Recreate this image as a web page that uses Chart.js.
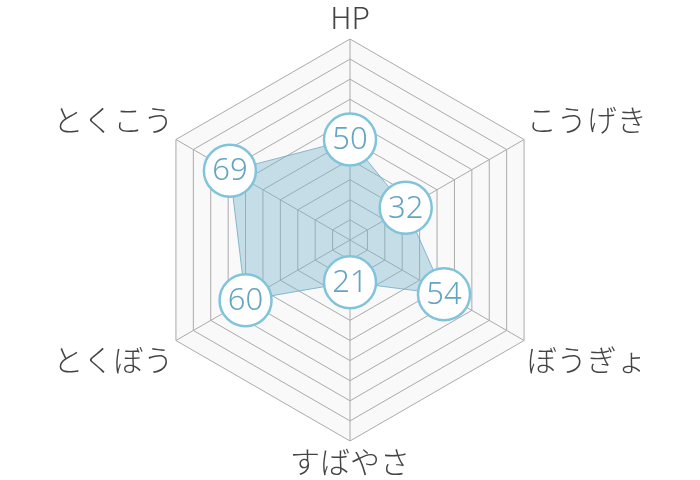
<!DOCTYPE html>
<html>
<head>
<meta charset="utf-8">
<script src="https://cdn.jsdelivr.net/npm/chart.js@4"></script>
<style>
  html, body { margin: 0; padding: 0; background: #fff; }
  #wrap { width: 700px; height: 480px; }
</style>
</head>
<body>
<div id="wrap"><canvas id="chart"></canvas></div>
<script>
const labels = ["HP", "こうげき", "ぼうぎょ", "すばやさ", "とくぼう", "とくこう"];
const stats = [50, 32, 54, 21, 60, 69];
const maxStat = 100;

// draws the value inside each point circle
const valueLabels = {
  id: "valueLabels",
  afterDatasetsDraw(chart) {
    const ctx = chart.ctx;
    const meta = chart.getDatasetMeta(0);
    ctx.save();
    ctx.font = '300 31px "Noto Sans", "Open Sans", sans-serif';
    ctx.fillStyle = "#64a5c3";
    ctx.textAlign = "center";
    ctx.textBaseline = "middle";
    meta.data.forEach((pt, i) => {
      ctx.fillText(String(stats[i]), pt.x, pt.y + 1);
    });
    ctx.restore();
  },
};

new Chart(document.getElementById("chart"), {
  type: "radar",
  data: {
    labels: labels,
    datasets: [
      {
        data: stats,
        backgroundColor: "rgba(120, 180, 205, 0.4)",
        borderColor: "rgba(110, 170, 200, 0.8)",
        borderWidth: 1,
        pointRadius: 26,
        pointHoverRadius: 26,
        pointBackgroundColor: "#fff",
        pointBorderColor: "#80c4dc",
        pointBorderWidth: 2.5,
      },
    ],
  },
  options: {
    responsive: true,
    maintainAspectRatio: false,
    animation: false,
    layout: { padding: 0 },
    plugins: {
      legend: { display: false },
      tooltip: { enabled: false },
    },
    scales: {
      r: {
        min: 0,
        max: maxStat,
        backgroundColor: "#f9f9f9",
        ticks: { stepSize: 10, display: false },
        grid: { color: "#aaa", lineWidth: 1 },
        angleLines: { color: "#aaa", lineWidth: 1 },
        pointLabels: {
          color: "#444",
          padding: 3,
          font: { size: 30, family: '"Noto Sans CJK JP", "Noto Sans", sans-serif', weight: 300 },
        },
      },
    },
  },
  plugins: [valueLabels],
});
</script>
</body>
</html>
